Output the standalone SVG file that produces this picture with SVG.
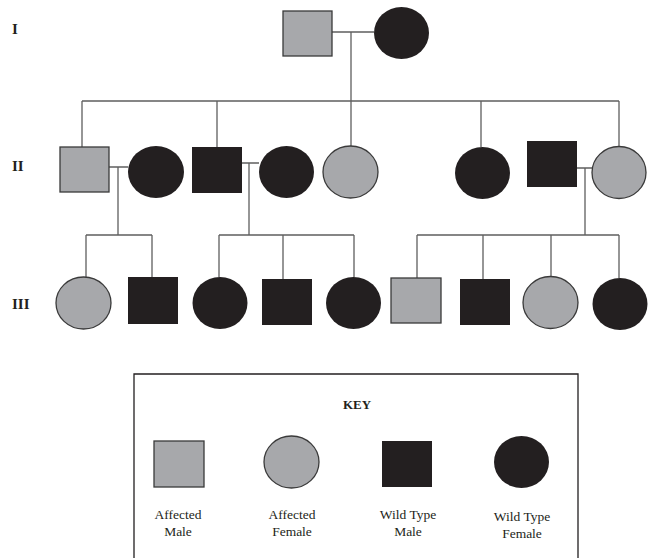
<svg xmlns="http://www.w3.org/2000/svg" width="651" height="558" viewBox="0 0 651 558">
<style>
.am{fill:#a7a8ab;stroke:#3a3a3a;stroke-width:1.3}
.wt{fill:#231f20;stroke:none}
.ln{fill:none;stroke:#5f5f5f;stroke-width:1.3}
.gen{font-family:"Liberation Serif",serif;font-weight:bold;font-size:15px;fill:#231f20}
.lbl{font-family:"Liberation Serif",serif;font-size:13.5px;fill:#231f20;text-anchor:middle}
.key{font-family:"Liberation Serif",serif;font-weight:bold;font-size:13px;fill:#231f20;text-anchor:middle}
</style>
<rect width="651" height="558" fill="#ffffff"/>
<g id="gen-labels">
<text class="gen" x="12" y="34">I</text>
<text class="gen" x="12" y="171">II</text>
<text class="gen" x="12" y="309">III</text>
</g>
<g id="connectors" class="ln">
<path d="M332 32H374M351 32V101"/>
<path d="M82 101H619M82 101V147M217 101V147M351 101V146M481 101V147M619 101V147"/>
<path d="M109 167H128M118 167V235M86 235H152M86 235V277M152 235V277"/>
<path d="M242 163H259M249 163V235M219 235H354M219 235V277M283 235V279M354 235V277"/>
<path d="M577 168H592M585 168V235M417 235H619M417 235V278M483 235V279M551 235V277M619 235V278"/>
</g>
<g id="I-1"><rect class="am" x="283" y="11" width="49" height="45"/></g>
<g id="I-2"><ellipse class="wt" cx="401.5" cy="33" rx="27.5" ry="26"/></g>
<g id="II-1"><rect class="am" x="60" y="147" width="49" height="45"/></g>
<g id="II-2"><ellipse class="wt" cx="156" cy="172" rx="28" ry="26"/></g>
<g id="II-3"><rect class="wt" x="192" y="147" width="50" height="46"/></g>
<g id="II-4"><ellipse class="wt" cx="286.5" cy="172" rx="27.5" ry="26"/></g>
<g id="II-5"><ellipse class="am" cx="350.5" cy="172" rx="27.5" ry="26"/></g>
<g id="II-6"><ellipse class="wt" cx="482.5" cy="173" rx="27.5" ry="26"/></g>
<g id="II-7"><rect class="wt" x="527" y="141" width="50" height="46"/></g>
<g id="II-8"><ellipse class="am" cx="619" cy="172.5" rx="27" ry="26"/></g>
<g id="III-1"><ellipse class="am" cx="83.5" cy="303" rx="27.5" ry="26"/></g>
<g id="III-2"><rect class="wt" x="128" y="277" width="50" height="47"/></g>
<g id="III-3"><ellipse class="wt" cx="220" cy="303" rx="27.5" ry="26"/></g>
<g id="III-4"><rect class="wt" x="262" y="279" width="50" height="46"/></g>
<g id="III-5"><ellipse class="wt" cx="353.5" cy="303" rx="27.5" ry="26"/></g>
<g id="III-6"><rect class="am" x="391" y="278" width="50" height="45"/></g>
<g id="III-7"><rect class="wt" x="460" y="279" width="50" height="46"/></g>
<g id="III-8"><ellipse class="am" cx="550.5" cy="302.5" rx="27.5" ry="26"/></g>
<g id="III-9"><ellipse class="wt" cx="620" cy="304" rx="27.5" ry="26"/></g>
<g id="key">
<path d="M134 558V374H578V558" fill="none" stroke="#231f20" stroke-width="1.3"/>
<text class="key" x="357" y="409">KEY</text>
<rect class="am" x="154" y="441" width="50" height="46"/>
<ellipse class="am" cx="291.5" cy="462" rx="27.5" ry="26"/>
<rect class="wt" x="382" y="441" width="50" height="46"/>
<ellipse class="wt" cx="521.5" cy="462" rx="27.5" ry="26"/>
<text class="lbl" x="178" y="519">Affected</text>
<text class="lbl" x="178" y="536">Male</text>
<text class="lbl" x="292" y="519">Affected</text>
<text class="lbl" x="292" y="536">Female</text>
<text class="lbl" x="408" y="519">Wild Type</text>
<text class="lbl" x="408" y="536">Male</text>
<text class="lbl" x="522" y="521">Wild Type</text>
<text class="lbl" x="522" y="538">Female</text>
</g>
</svg>
